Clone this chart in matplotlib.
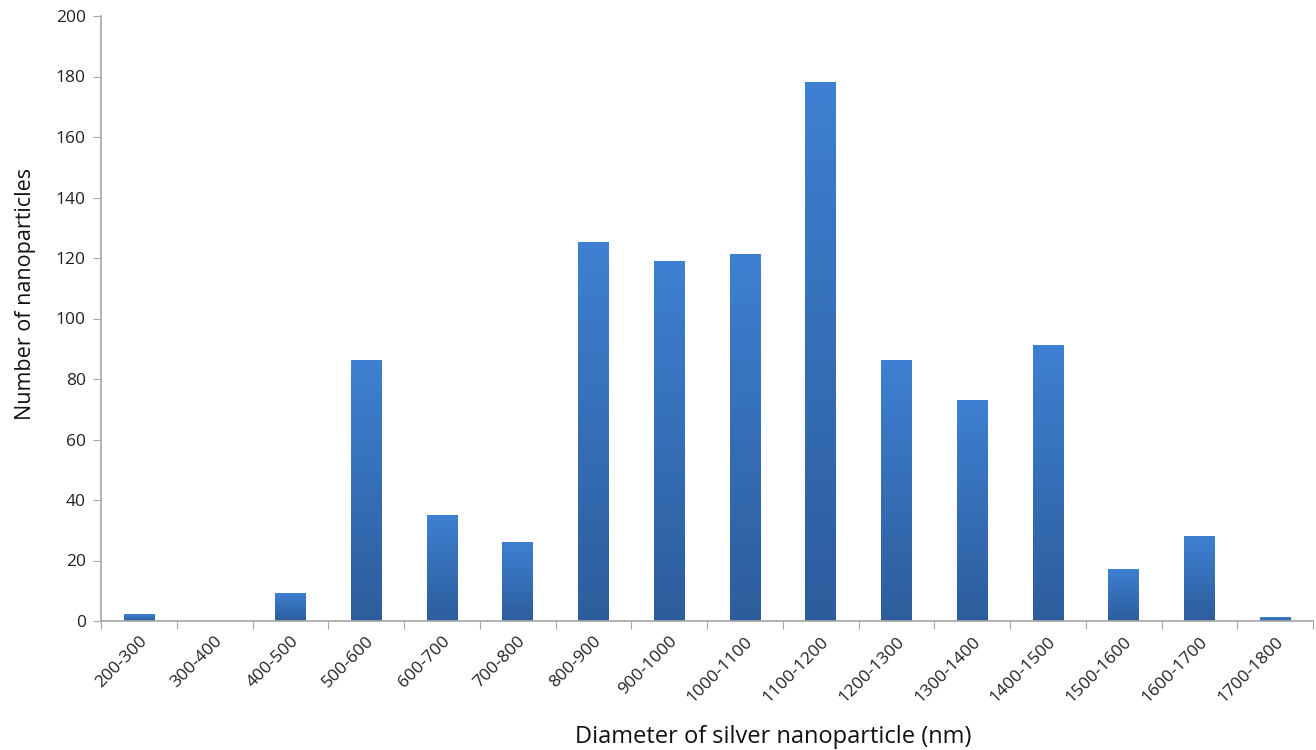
import numpy as np
import matplotlib.pyplot as plt
import matplotlib
from matplotlib.colors import LinearSegmentedColormap

matplotlib.rcParams['font.family'] = ['Open Sans', 'DejaVu Sans']

categories = ['200-300', '300-400', '400-500', '500-600', '600-700', '700-800',
              '800-900', '900-1000', '1000-1100', '1100-1200', '1200-1300',
              '1300-1400', '1400-1500', '1500-1600', '1600-1700', '1700-1800']
counts = [2, 0, 9, 86, 35, 26, 125, 119, 121, 178, 86, 73, 91, 17, 28, 1]

fig = plt.figure(figsize=(13.16, 7.5), dpi=100)
ax = fig.add_axes([101 / 1316, 1 - 621 / 750, (1313 - 101) / 1316, (621 - 16) / 750])

x = np.arange(len(categories))
width = 0.4
bars = ax.bar(x, counts, width=width, color='none', edgecolor='none', zorder=2)

# 垂直漸層：上淺下深
cmap = LinearSegmentedColormap.from_list('bar_grad', ['#2d5d9c', '#3e80d2'])
grad = np.linspace(0, 1, 256).reshape(-1, 1)
for bar in bars:
    h = bar.get_height()
    if h <= 0:
        continue
    x0 = bar.get_x()
    ax.imshow(grad, cmap=cmap, aspect='auto', origin='lower',
              extent=(x0, x0 + bar.get_width(), 0, h), zorder=2)

ax.set_xlim(-0.5, len(categories) - 0.5)
ax.set_ylim(0, 200)
ax.set_yticks(np.arange(0, 201, 20))
ax.tick_params(axis='y', labelsize=12.5, colors='#222222', length=6, direction='out',
               color='#a6a6a6', pad=5)

# x 軸刻度在類別之間
ax.set_xticks(np.arange(-0.5, len(categories), 1.0))
ax.set_xticklabels([])
ax.set_xticks(x, minor=True)
ax.set_xticklabels(categories, minor=True, rotation=45, ha='right',
                   rotation_mode='anchor', fontsize=12.5, color='#222222')
ax.tick_params(axis='x', which='major', length=6, color='#a6a6a6', direction='out')
ax.tick_params(axis='x', which='minor', length=0, pad=9)

for s in ['top', 'right']:
    ax.spines[s].set_visible(False)
for s in ['left', 'bottom']:
    ax.spines[s].set_color('#a6a6a6')
    ax.spines[s].set_linewidth(1.2)

ax.set_ylabel('Number of nanoparticles', fontsize=15.5, color='#111111')
ax.yaxis.set_label_coords(-0.054, 0.54)
ax.set_xlabel('Diameter of silver nanoparticle (nm)', fontsize=17, color='#111111',
              labelpad=14, x=0.555)

plt.savefig('out.png', dpi=100)
plt.close()
